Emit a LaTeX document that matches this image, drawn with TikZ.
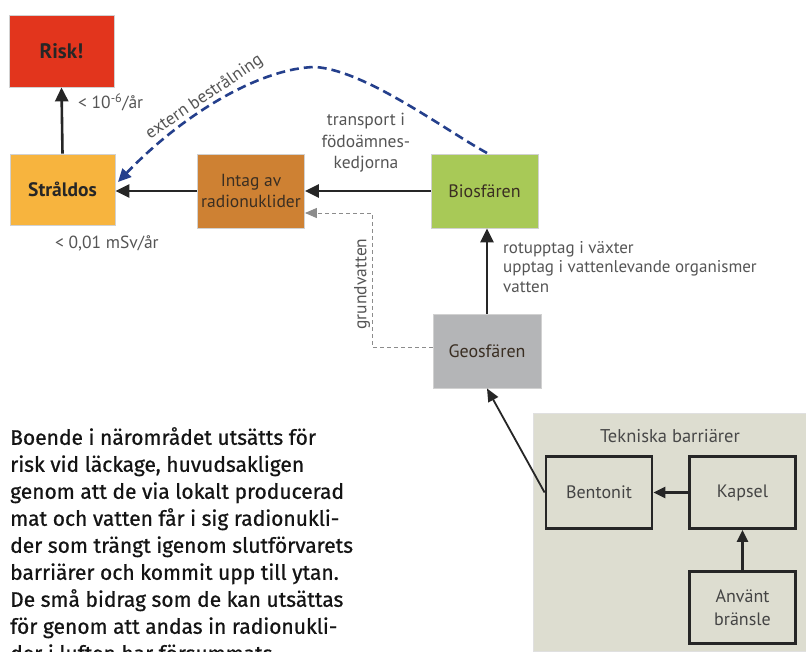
\documentclass[tikz,border=0pt]{standalone}
\usepackage{fontspec}
\setmainfont{PT Sans}
\newfontfamily\parafont{Fira Sans}[FakeBold=0.7]
\usetikzlibrary{arrows.meta}
\definecolor{riskred}{HTML}{E2351D}
\definecolor{doseorange}{HTML}{F7B43E}
\definecolor{intagbrown}{HTML}{CE8133}
\definecolor{biogreen}{HTML}{A8C957}
\definecolor{geogrey}{HTML}{B4B5B7}
\definecolor{panelbg}{HTML}{DDDDD0}
\definecolor{navy}{HTML}{243F8C}
\definecolor{labelgrey}{HTML}{555555}
\definecolor{boxtext}{HTML}{3A2E22}
\begin{document}
\begin{tikzpicture}[x=1pt,y=-1pt,
  cbox/.style={draw=white!82!black, line width=0.8pt, minimum width=107pt, minimum height=74pt,
    inner sep=2pt, align=center, text=boxtext, font=\fontsize{18}{21}\selectfont},
  tbox/.style={draw=black!85, line width=2.8pt, fill=panelbg, minimum width=106pt, minimum height=72pt,
    inner sep=2pt, align=center, text=labelgrey!80!black, font=\fontsize{18}{23}\selectfont},
  mainarrow/.style={line width=2.6pt, black!85, -{Triangle[length=14pt,width=13pt]}},
  smallarrow/.style={line width=2.4pt, black!85, -{Triangle[length=12pt,width=11pt]}},
  lbl/.style={text=labelgrey, font=\fontsize{17.5}{21}\selectfont, inner sep=0pt}
]
\useasboundingbox (0,0) rectangle (806,651);
\fill[white] (0,0) rectangle (806,651);

% main chain boxes
\node[cbox, fill=riskred, minimum width=105pt, minimum height=72pt, text=black!85,
      font=\bfseries\fontsize{21}{24}\selectfont] (risk) at (61.5,51) {Risk!};
\node[cbox, fill=doseorange, minimum width=105pt, minimum height=71pt, text=black!85,
      font=\bfseries\fontsize{19.5}{22}\selectfont] (dos) at (62.5,189.5) {Stråldos};
\node[cbox, fill=intagbrown, font=\fontsize{17.5}{21}\selectfont] (intag) at (251,191) {Intag av\\radionuklider};
\node[cbox, fill=biogreen] (bio) at (484.5,191) {Biosfären};
\node[cbox, fill=geogrey, minimum width=108pt] (geo) at (487,351) {Geosfären};

% panel
\node[draw=white!88!black, fill=panelbg, minimum width=273pt, minimum height=238pt, inner sep=0pt,
      anchor=north west] (panel) at (533,413) {};
\node[lbl, text=labelgrey!85!black, font=\fontsize{18.5}{22}\selectfont] (paneltitle) at (670,436) {Tekniska barriärer};
\node[tbox] (bent) at (599,492.5) {Bentonit};
\node[tbox] (kaps) at (742.5,492.5) {Kapsel};
\node[tbox] (anv) at (742.5,607.5) {Använt\\bränsle};

% arrows
\draw[mainarrow] (dos.north) -- (risk.south);
\draw[mainarrow] (intag.west) -- (intag.west -| dos.east);
\draw[mainarrow] (bio.west) -- (intag.east);
\draw[mainarrow] (geo.north) -- (geo.north |- bio.south);
\draw[line width=1.8pt, black!85, -{Triangle[length=13pt,width=11pt]}] (bent.west) -- (geo.south);
\draw[smallarrow] (kaps.west) -- (bent.east);
\draw[smallarrow] (anv.north) -- (kaps.south);

% grundvatten dashed
\coordinate (gwcorner) at (372,347);
\coordinate (gwin) at ([yshift=-22pt]intag.east);
\draw[black!45, line width=1pt, dash pattern=on 4pt off 3pt, -{Triangle[length=12pt,width=10pt]}]
  (geo.west |- gwcorner) -- (gwcorner) |- (gwin);
\node[lbl, rotate=90] (gwlabel) at (362,284) {grundvatten};

% extern bestralning
\coordinate (peak) at (315,67);
\coordinate (dosin) at (118,182);
\coordinate (biotop) at (487,153);
\draw[navy, line width=2.6pt, dash pattern=on 9pt off 5pt, -{Triangle[length=13pt,width=12pt]}]
  (biotop) .. controls (445,130) and (365,70) .. (peak)
  .. controls (262,68) and (185,112) .. (dosin);
\node[lbl, rotate=34, anchor=base] (extlabel) at (207,101) {extern bestrålning};

% labels
\node[lbl, anchor=west] (risklbl) at (78,102) {< 10\textsuperscript{-6}/år};
\node[lbl, anchor=west] (doslbl) at (55,243) {< 0,01 mSv/år};
\node[lbl, align=center, font=\fontsize{17.5}{21.5}\selectfont] (transp) at (366,143) {transport i\\födoämnes-\\kedjorna};
\node[lbl, align=left, anchor=north west, font=\fontsize{17}{19.5}\selectfont] (rotlbl) at (503,241)
  {rotupptag i växter\\upptag i vattenlevande organismer\\vatten};

% paragraph
\node[anchor=north west, inner sep=0pt, align=left, text=black!92,
      font=\parafont\fontsize{21}{27}\selectfont] (para) at (10,427)
{Boende i närområdet utsätts för\\
risk vid läckage, huvudsakligen\\
genom att de via lokalt producerad\\
mat och vatten får i sig radionukli-\\
der som trängt igenom slutförvarets\\
barriärer och kommit upp till ytan.\\
De små bidrag som de kan utsättas\\
för genom att andas in radionukli-\\
der i luften har försummats.};
\end{tikzpicture}
\end{document}
